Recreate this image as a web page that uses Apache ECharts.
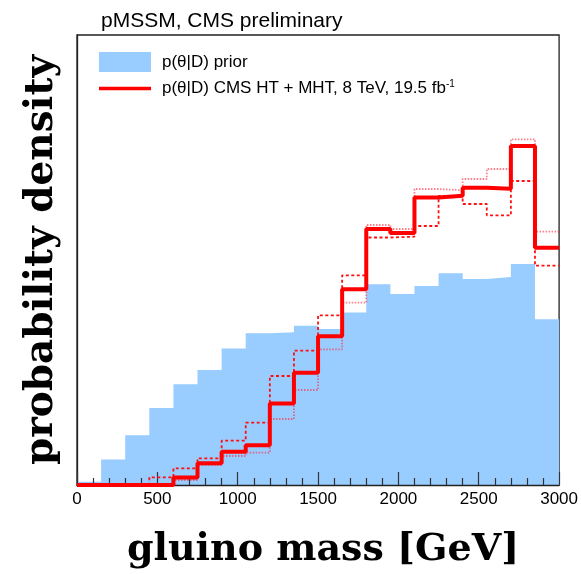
<!DOCTYPE html>
<html>
<head>
<meta charset="utf-8">
<script src="https://cdn.jsdelivr.net/npm/echarts@6/dist/echarts.min.js"></script>
<style>html,body{margin:0;padding:0;background:#fff;}#c{width:581px;height:574px;}</style>
</head>
<body>
<div id="c"></div>
<script>
// bin lower edges [GeV]; last bin ends at 3000
var binEdges = [0,150,300,450,600,750,900,1050,1200,1350,1500,1650,1800,1950,2100,2250,2400,2550,2700,2850];
var xMax = 3000;
// prior (blue filled histogram), arbitrary density units
var priorVals = [3.3,25.5,49.7,77,100.7,115,136.5,151.7,152.7,159.3,156,172.5,200.7,191,199,211.7,206,208,221,165.7];
// posterior CMS HT + MHT (thick solid)
var postVals = [0,0,0,0,7.5,21.7,33.2,39.8,81.5,112.2,148.8,195.7,256,252,287.5,289.3,297.2,296.2,339,237.2];
// variation (dashed)
var dashedVals = [0,0,0,7.7,16.7,26.7,44.3,62.3,109,134.3,169.7,209.7,247.5,248.3,259,289,281,269.7,304,219.3];
// variation (dotted)
var dottedVals = [0,0,0,1,5,20,29,32.3,66,95,135.7,182.3,260,256,296,294.7,306,316,345.7,253.3];
var xTicks = [0,500,1000,1500,2000,2500,3000];

var PRIOR = 'p(θ|D) prior';
var POST = 'p(θ|D) CMS HT + MHT, 8 TeV, 19.5 fb-1';

function steps(vals){
  var d = binEdges.map(function(e,i){return [e, vals[i]];});
  d.push([xMax, vals[vals.length-1]]);
  return d;
}

var chart = echarts.init(document.getElementById('c'));
chart.setOption({
  animation: false,
  backgroundColor: '#fff',
  title: {
    text: 'pMSSM, CMS preliminary',
    left: 101, top: 11, padding: 0,
    textStyle: {fontFamily: 'Liberation Sans', fontSize: 21, fontWeight: 'normal', color: '#000', lineHeight: 21}
  },
  legend: {
    orient: 'vertical', left: 99, top: 52, padding: 0,
    itemWidth: 52, itemHeight: 20, itemGap: 7,
    textStyle: {fontFamily: 'Liberation Sans', fontSize: 17, color: '#000', padding: [0,0,0,6],
      rich: {sup: {fontFamily: 'Liberation Sans', fontSize: 10, verticalAlign: 'top', padding: [0,0,9,0]}}},
    formatter: function(n){ return n === POST ? 'p(θ|D) CMS HT + MHT, 8 TeV, 19.5 fb{sup|-1}' : n; },
    data: [
      {name: PRIOR, icon: 'rect'},
      {name: POST, icon: 'path://M0,0 L52,0 L52,3.5 L0,3.5 Z', itemStyle: {color: '#ff0000'}}
    ]
  },
  grid: {left: 77, right: 19, top: 35, bottom: 89, show: true, borderColor: '#222', borderWidth: 1.3, backgroundColor: 'transparent'},
  xAxis: {
    type: 'value', min: 0, max: xMax, interval: 500, z: 3,
    axisLine: {show: true, lineStyle: {color: '#222', width: 1.3}},
    axisTick: {show: true, inside: true, length: 13, lineStyle: {color: '#333', width: 1.2}},
    minorTick: {show: true, splitNumber: 5, length: 7, lineStyle: {color: '#333', width: 1.2}},
    splitLine: {show: false},
    axisLabel: {fontFamily: 'Liberation Sans', fontSize: 17, color: '#000', margin: 6,
      formatter: function(v){ return xTicks.indexOf(v) >= 0 ? String(v) : ''; }},
    name: 'gluino mass [GeV]', nameLocation: 'middle', nameGap: 46,
    nameTextStyle: {fontFamily: 'DejaVu Serif', fontWeight: 'bold', fontSize: 38, color: '#000', lineHeight: 38, padding: [0,0,0,10]}
  },
  yAxis: {
    type: 'value', min: 0, max: 450,
    axisLine: {show: true, lineStyle: {color: '#222', width: 1.3}},
    axisTick: {show: false}, axisLabel: {show: false}, splitLine: {show: false},
    name: 'probability density', nameLocation: 'middle', nameRotate: 90, nameGap: 16,
    nameTextStyle: {fontFamily: 'DejaVu Serif', fontWeight: 'bold', fontSize: 39, color: '#000', lineHeight: 39}
  },
  series: [
    {name: PRIOR, type: 'line', step: 'end', data: steps(priorVals), symbol: 'none', z: 1,
      color: '#99ccff', lineStyle: {width: 0, color: '#99ccff'}, areaStyle: {color: '#99ccff', opacity: 1}, itemStyle: {color: '#99ccff'}},
    {name: 'dotted', type: 'line', step: 'end', data: steps(dottedVals), symbol: 'none', z: 4,
      lineStyle: {width: 1.8, color: 'rgba(255,40,60,0.6)', type: [1.5,1.5]}},
    {name: 'dashed', type: 'line', step: 'end', data: steps(dashedVals), symbol: 'none', z: 4,
      lineStyle: {width: 1.8, color: '#ff1010', type: [3,2.5]}},
    {name: POST, type: 'line', step: 'end', data: steps(postVals), symbol: 'none', z: 5, clip: false,
      color: '#ff0000', lineStyle: {width: 4, color: '#ff0000'}, itemStyle: {color: '#ff0000'}}
  ]
});
</script>
</body>
</html>
